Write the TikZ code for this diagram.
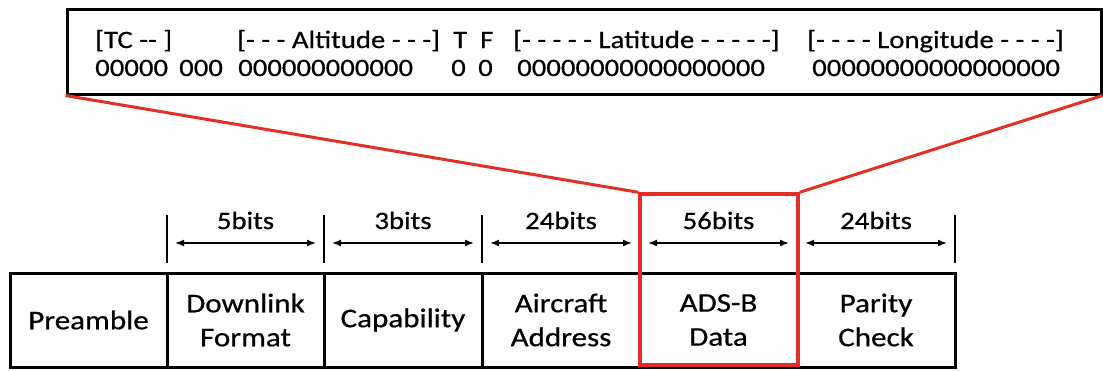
\documentclass[tikz,border=0pt]{standalone}
\usepackage{fontspec}
\setmainfont{Carlito}[FakeStretch=1.15,FakeBold=0.6]
\usetikzlibrary{arrows.meta}
\definecolor{adsred}{RGB}{226,48,38}
\begin{document}
\begin{tikzpicture}[x=1pt,y=-1pt,
  cell/.style={draw, line width=3pt, minimum height=94pt, inner sep=0pt, align=center,
    font=\fontsize{27}{34}\selectfont},
  toptext/.style={anchor=base west, inner sep=0pt, font=\fontsize{25}{30}\selectfont},
  bitlabel/.style={anchor=base, inner sep=0pt, font=\fontsize{25}{30}\selectfont},
  tickline/.style={line width=2.5pt},
  span/.style={line width=1.6pt, {Latex[length=9pt,width=7pt]}-{Latex[length=9pt,width=7pt]}},
  redline/.style={adsred, line width=3pt}]
\useasboundingbox (0,0) rectangle (1103,370);
\fill[white] (0,0) rectangle (1103,370);

% top field box
\node[draw, line width=3pt, minimum width=1034pt, minimum height=85pt, inner sep=0pt] (topbox) at (584,51.5) {};
\node[toptext] (t1) at (95,48) {[TC -{}- ]};
\node[toptext] (t2) at (237,48) {[- - - Altitude - - -]};
\node[toptext] (t3) at (453,48) {T};
\node[toptext] (t4) at (480,48) {F};
\node[toptext] (t5) at (513,48) {[- - - - - Latitude - - - - -]};
\node[toptext] (t6) at (807,48) {[- - - - Longitude - - - -]};
\node[toptext] (z1) at (95,76) {00000};
\node[toptext] (z2) at (179,76) {000};
\node[toptext] (z3) at (238,76) {000000000000};
\node[toptext] (z4) at (451,76) {0};
\node[toptext] (z5) at (478,76) {0};
\node[toptext] (z6) at (517,76) {00000000000000000};
\node[toptext] (z7) at (812,76) {00000000000000000};

% frame cells
\node[cell, minimum width=157pt] (c1) at (88.5,320) {Preamble};
\node[cell, minimum width=157pt] (c2) at (245.5,320) {Downlink\\Format};
\node[cell, minimum width=158pt] (c3) at (403,320) {Capability};
\node[cell, minimum width=158pt] (c4) at (561,320) {Aircraft\\Address};
\node[cell, minimum width=157pt] (c5) at (718.5,320) {ADS-B\\Data};
\node[cell, minimum width=158pt] (c6) at (876,320) {Parity\\Check};

% ticks
\foreach \i/\x in {0/167,1/324,2/482,3/640,4/797,5/955}{
  \coordinate (k\i a) at (\x,215);
  \coordinate (k\i b) at (\x,263);
  \draw[tickline] (k\i a) -- (k\i b);
}
% span arrows
\foreach \i/\x/\y in {1/167/324,2/324/482,3/482/640,4/640/797,5/797/955}{
  \coordinate (s\i a) at (\x+8,243);
  \coordinate (s\i b) at (\y-8,243);
  \draw[span] (s\i a) -- (s\i b);
}
\node[bitlabel] (b1) at (245.5,229) {5bits};
\node[bitlabel] (b2) at (403,229) {3bits};
\node[bitlabel] (b3) at (561,229) {24bits};
\node[bitlabel] (b4) at (718.5,229) {56bits};
\node[bitlabel] (b5) at (876,229) {24bits};

% red highlight
\node[draw=adsred, line width=3.5pt, minimum width=158pt, minimum height=171pt, inner sep=0pt] (red) at (719,279.5) {};
\draw[redline] (topbox.south west) -- (red.north west);
\draw[redline] (topbox.south east) -- (red.north east);
\end{tikzpicture}
\end{document}
